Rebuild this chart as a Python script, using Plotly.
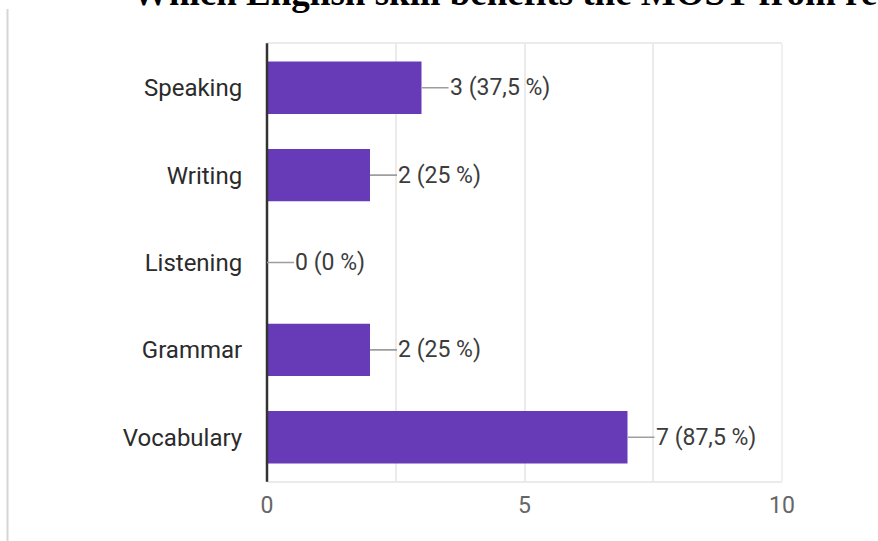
import plotly.graph_objects as go

categories = ["Speaking", "Writing", "Listening", "Grammar", "Vocabulary"]
counts = [3, 2, 0, 2, 7]
percent_labels = ["37,5 %", "25 %", "0 %", "25 %", "87,5 %"]
x_tickvals = [0, 2.5, 5, 7.5, 10]
x_ticktext = ["0", "", "5", "", "10"]
title_text = "Which English skill benefits the MOST from reading?"

W, H = 878, 541
L, R, T, B = 267, 96, 44, 60
pw, ph = W - L - R, H - T - B

def px_to_paper_x(px):
    return (px - L) / pw

def px_to_paper_y(py):
    return (H - B - py) / ph

fig = go.Figure()
fig.add_trace(go.Bar(
    y=categories, x=counts, orientation="h",
    marker=dict(color="#673ab7", line=dict(width=0)),
    width=0.6, hoverinfo="skip",
))

annotations = []
for c, v, p in zip(categories, counts, percent_labels):
    annotations.append(dict(
        x=v, y=c, xref="x", yref="y",
        text=f"{v} ({p})", showarrow=True, arrowhead=0,
        arrowwidth=1.6, arrowcolor="#9e9e9e",
        ax=27, ay=0, xanchor="left", yanchor="middle",
        font=dict(family="Roboto", size=23, color="#3c3c3c"),
        borderpad=0,
    ))

annotations.append(dict(
    x=px_to_paper_x(130), y=px_to_paper_y(15), xref="paper", yref="paper",
    text=f"<b>{title_text}</b>", showarrow=False,
    xanchor="left", yanchor="bottom",
    font=dict(family="Liberation Serif", size=37, color="#000000"),
))

fig.update_layout(
    width=W, height=H,
    margin=dict(l=L, r=R, t=T, b=B),
    paper_bgcolor="white", plot_bgcolor="white",
    showlegend=False,
    annotations=annotations,
    shapes=[
        dict(type="line", xref="paper", yref="paper",
             x0=px_to_paper_x(7.5), x1=px_to_paper_x(7.5),
             y0=px_to_paper_y(9), y1=px_to_paper_y(541),
             line=dict(color="#d6d6d6", width=2)),
        dict(type="line", xref="paper", yref="paper",
             x0=1, x1=1, y0=0, y1=1,
             line=dict(color="#ebebeb", width=1.5), layer="below"),
        dict(type="line", xref="paper", yref="paper",
             x0=0, x1=0, y0=-0.002, y1=1.002,
             line=dict(color="#333333", width=2.5), layer="above"),
    ],
    xaxis=dict(
        range=[0, 10], tickvals=x_tickvals, ticktext=x_ticktext,
        showgrid=True, gridcolor="#ebebeb", gridwidth=1.5,
        zeroline=False, showline=True, mirror=True,
        linecolor="#ebebeb", linewidth=1.5,
        tickfont=dict(family="Roboto", size=23, color="#666666"),
        ticks="outside", ticklen=3, tickcolor="rgba(0,0,0,0)",
        fixedrange=True,
    ),
    yaxis=dict(
        categoryorder="array", categoryarray=categories[::-1],
        showgrid=False, zeroline=False,
        showline=False,
        tickfont=dict(family="Roboto", size=24, color="#2b2b2b"),
        ticks="outside", ticklen=19, tickcolor="rgba(0,0,0,0)",
        fixedrange=True,
    ),
)

fig.write_html("out.html")
